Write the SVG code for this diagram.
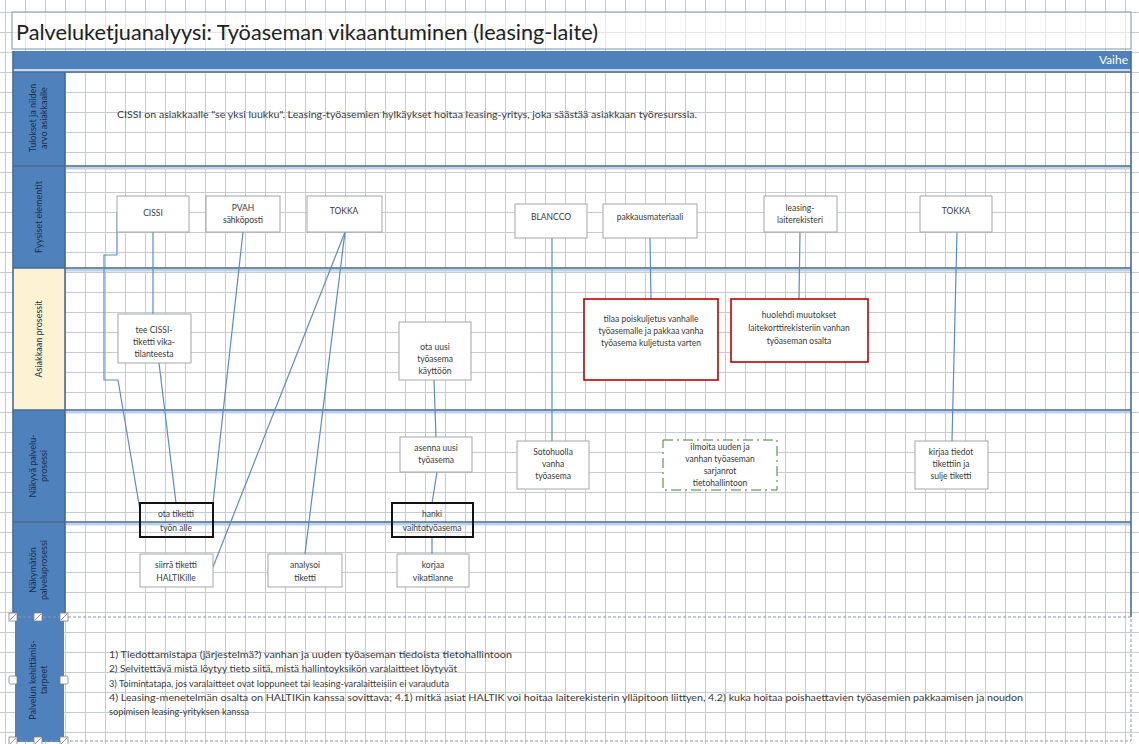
<svg xmlns="http://www.w3.org/2000/svg" width="1139" height="744" viewBox="0 0 1139 744">
<style>
.lbl{font-family:Lato,"Liberation Sans",sans-serif;font-size:9px;fill:#1a2f4d;text-anchor:middle}
.nt{font-family:Lato,"Liberation Sans",sans-serif;font-size:8.5px;fill:#3a3a3a;text-anchor:middle}
.box{fill:#fff;stroke:#a6a6a6;stroke-width:1}
.red{fill:#fff;stroke:#c00000;stroke-width:1.6}
.blk{fill:none;stroke:#111;stroke-width:2}
.sep{stroke:#4a6b90;stroke-width:1.6}
.glow{stroke:#bcd3ee;stroke-width:3}
.conn{fill:none;stroke:#5b8bc9;stroke-width:1.2}
.txt{font-family:Lato,"Liberation Sans",sans-serif;font-size:8.5px;fill:#3a3a3a}
.hd{fill:#fff;stroke:#808080;stroke-width:0.8}
</style>
<defs>
<pattern id="grid" width="20" height="20" patternUnits="userSpaceOnUse" x="5" y="12">
<path d="M0 0.5 H20 M0.5 0 V20" stroke="#c4ccd6" stroke-width="1" fill="none"/>
</pattern>
</defs>
<rect width="1139" height="744" fill="#fff"/>
<rect width="1139" height="744" fill="url(#grid)"/>

<g id="title">
<rect x="12" y="12" width="1119" height="37" fill="#fff" fill-opacity="0.55" stroke="#7f93ad" stroke-width="1"/>
<text x="16" y="40" font-family="Lato,'Liberation Sans',sans-serif" font-size="22" fill="#222" textLength="582" lengthAdjust="spacingAndGlyphs">Palveluketjuanalyysi: Työaseman vikaantuminen (leasing-laite)</text>
</g>

<g id="phase-bar">
<rect x="13" y="51" width="1118" height="18" fill="#4f81bd"/>
<rect x="13" y="69" width="1118" height="3" fill="#c6d9f1"/>
<text x="1128" y="64" text-anchor="end" font-family="Lato,'Liberation Sans',sans-serif" font-size="12" fill="#fff">Vaihe</text>
</g>

<g id="lanes">
<rect x="13" y="72" width="52" height="94" fill="#4f81bd"/>
<rect x="13" y="166" width="52" height="102" fill="#4f81bd"/>
<rect x="13" y="268" width="52" height="142" fill="#fdf2d4"/>
<rect x="13" y="410" width="52" height="112" fill="#4f81bd"/>
<rect x="13" y="522" width="52" height="95" fill="#4f81bd"/>
<rect x="15" y="617" width="49" height="125" fill="#4f81bd"/>
<line x1="13" y1="72" x2="1131" y2="72" class="sep"/>
<line x1="65" y1="168" x2="1131" y2="168" class="glow"/>
<line x1="13" y1="166" x2="1131" y2="166" class="sep"/>
<line x1="65" y1="270" x2="1131" y2="270" class="glow"/>
<line x1="13" y1="268" x2="1131" y2="268" class="sep"/>
<line x1="65" y1="412" x2="1131" y2="412" class="glow"/>
<line x1="13" y1="410" x2="1131" y2="410" class="sep"/>
<line x1="65" y1="524" x2="1131" y2="524" class="glow"/>
<line x1="13" y1="522" x2="1131" y2="522" class="sep"/>
<line x1="65" y1="72" x2="65" y2="617" class="sep"/>
<line x1="13" y1="51" x2="13" y2="617" class="sep"/>
<line x1="1131" y1="51" x2="1131" y2="617" class="sep"/>
<path d="M13 617 H1131 V741 H13" fill="none" stroke="#8797ad" stroke-width="1" stroke-dasharray="3 2"/>
<text class="lbl" transform="translate(39,118) rotate(-90)"><tspan x="0" y="-3">Tulokset ja niiden</tspan><tspan x="0" y="8">arvo asiakkaalle</tspan></text>
<text class="lbl" transform="translate(39,217) rotate(-90)"><tspan x="0" y="3">Fyysiset elementit</tspan></text>
<text class="lbl" transform="translate(39,339) rotate(-90)"><tspan x="0" y="3">Asiakkaan prosessit</tspan></text>
<text class="lbl" transform="translate(39,466) rotate(-90)"><tspan x="0" y="-3">Näkyvä palvelu-</tspan><tspan x="0" y="8">prosessi</tspan></text>
<text class="lbl" transform="translate(39,570) rotate(-90)"><tspan x="0" y="-3">Näkymätön</tspan><tspan x="0" y="8">palveluprosessi</tspan></text>
<text class="lbl" transform="translate(39,680) rotate(-90)"><tspan x="0" y="-3">Palvelun kehittämis-</tspan><tspan x="0" y="8">tarpeet</tspan></text>
<rect class="hd" x="9" y="613" width="8" height="8"/><path d="M10 620 L16 614" stroke="#808080" stroke-width="0.8"/>
<rect class="hd" x="34" y="613" width="8" height="8"/><path d="M35 620 L41 614" stroke="#808080" stroke-width="0.8"/>
<rect class="hd" x="60" y="613" width="8" height="8"/><path d="M61 620 L67 614" stroke="#808080" stroke-width="0.8"/>
<rect class="hd" x="9" y="676" width="8" height="8" rx="1.5"/>
<rect class="hd" x="60" y="676" width="8" height="8" rx="1.5"/>
<rect class="hd" x="9" y="737" width="8" height="8"/><path d="M10 744 L16 738" stroke="#808080" stroke-width="0.8"/>
<rect class="hd" x="34" y="737" width="8" height="8"/><path d="M35 744 L41 738" stroke="#808080" stroke-width="0.8"/>
<rect class="hd" x="60" y="737" width="8" height="8"/><path d="M61 744 L67 738" stroke="#808080" stroke-width="0.8"/>
</g>

<g id="lane1-text">
<text class="txt" x="117" y="118" textLength="580" lengthAdjust="spacingAndGlyphs">CISSI on asiakkaalle "se yksi luukku". Leasing-työasemien hylkäykset hoitaa leasing-yritys, joka säästää asiakkaan työresurssia.</text>
</g>

<g id="connectors">
<path class="conn" d="M153 232 V314"/>
<path class="conn" d="M117 213 V255 H104 V380 H118 L140 510"/>
<path class="conn" d="M159 363 L176 503"/>
<path class="conn" d="M243 232 L213 503"/>
<path class="conn" d="M345 232 L213 567"/>
<path class="conn" d="M345 232 L305 554"/>
<path class="conn" d="M434 380 L436 437"/>
<path class="conn" d="M437 472 L432 503"/>
<path class="conn" d="M432 537 V554"/>
<path class="conn" d="M552 238 V441"/>
<path class="conn" d="M650 238 L651 299"/>
<path class="conn" d="M800 232 L799 299"/>
<path class="conn" d="M957 232 L952 441"/>
</g>

<g id="n-cissi"><rect class="box" x="117" y="196" width="72" height="36"/><text class="nt" x="153" y="216">CISSI</text></g>
<g id="n-pvah"><rect class="box" x="206" y="196" width="74" height="36"/><text class="nt" x="243" y="211">PVAH</text><text class="nt" x="243" y="223">sähköposti</text></g>
<g id="n-tokka1"><rect class="box" x="307" y="196" width="75" height="36"/><text class="nt" x="344" y="214">TOKKA</text></g>
<g id="n-blancco"><rect class="box" x="515" y="204" width="72" height="34"/><text class="nt" x="551" y="220">BLANCCO</text></g>
<g id="n-pakkaus"><rect class="box" x="603" y="204" width="94" height="34"/><text class="nt" x="650" y="220">pakkausmateriaali</text></g>
<g id="n-leasingrek"><rect class="box" x="764" y="196" width="73" height="36"/><text class="nt" x="800" y="211">leasing-</text><text class="nt" x="800" y="223">laiterekisteri</text></g>
<g id="n-tokka2"><rect class="box" x="920" y="196" width="72" height="36"/><text class="nt" x="956" y="214">TOKKA</text></g>

<g id="n-teecissi"><rect class="box" x="118" y="314" width="73" height="49"/><text class="nt" x="154" y="333">tee CISSI-</text><text class="nt" x="154" y="345">tiketti vika-</text><text class="nt" x="154" y="357">tilanteesta</text></g>
<g id="n-otauusi"><rect class="box" x="399" y="322" width="72" height="58"/><text class="nt" x="435" y="350">ota uusi</text><text class="nt" x="435" y="362">työasema</text><text class="nt" x="435" y="374">käyttöön</text></g>
<g id="n-tilaa"><rect class="red" x="584" y="299" width="134" height="81"/><text class="nt" x="651" y="322">tilaa poiskuljetus vanhalle</text><text class="nt" x="651" y="334">työasemalle ja pakkaa vanha</text><text class="nt" x="651" y="346">työasema kuljetusta varten</text></g>
<g id="n-huolehdi"><rect class="red" x="731" y="299" width="137" height="63"/><text class="nt" x="799" y="318">huolehdi muutokset</text><text class="nt" x="799" y="331">laitekorttirekisteriin vanhan</text><text class="nt" x="799" y="344">työaseman osalta</text></g>

<g id="n-asenna"><rect class="box" x="400" y="437" width="72" height="35"/><text class="nt" x="436" y="451">asenna uusi</text><text class="nt" x="436" y="463">työasema</text></g>
<g id="n-sotohuolla"><rect class="box" x="517" y="441" width="72" height="48"/><text class="nt" x="553" y="455">Sotohuolla</text><text class="nt" x="553" y="467">vanha</text><text class="nt" x="553" y="479">työasema</text></g>
<g id="n-ilmoita"><rect x="663" y="440" width="114" height="50" fill="#fff" stroke="#3f7f3f" stroke-width="1" stroke-dasharray="10 4 2 4"/><text class="nt" x="720" y="450">ilmoita uuden ja</text><text class="nt" x="720" y="462">vanhan työaseman</text><text class="nt" x="720" y="474">sarjanrot</text><text class="nt" x="720" y="486">tietohallintoon</text></g>
<g id="n-kirjaa"><rect class="box" x="915" y="441" width="73" height="48"/><text class="nt" x="951" y="455">kirjaa tiedot</text><text class="nt" x="951" y="467">tikettiin ja</text><text class="nt" x="951" y="479">sulje tiketti</text></g>

<g id="n-otatiketti"><rect class="blk" x="140" y="503" width="73" height="34"/><text class="nt" x="176" y="517">ota tiketti</text><text class="nt" x="176" y="531">työn alle</text></g>
<g id="n-hanki"><rect class="blk" x="392" y="503" width="81" height="34"/><text class="nt" x="432" y="517">hanki</text><text class="nt" x="432" y="531">vaihtotyöasema</text></g>
<g id="n-siirra"><rect class="box" x="140" y="554" width="73" height="33"/><text class="nt" x="176" y="568">siirrä tiketti</text><text class="nt" x="176" y="581">HALTIKille</text></g>
<g id="n-analysoi"><rect class="box" x="268" y="554" width="74" height="33"/><text class="nt" x="305" y="568">analysoi</text><text class="nt" x="305" y="581">tiketti</text></g>
<g id="n-korjaa"><rect class="box" x="397" y="554" width="72" height="33"/><text class="nt" x="433" y="568">korjaa</text><text class="nt" x="433" y="581">vikatilanne</text></g>

<g id="lane6-text">
<text class="txt" x="109" y="658" textLength="403" lengthAdjust="spacingAndGlyphs">1) Tiedottamistapa (järjestelmä?) vanhan ja uuden työaseman tiedoista tietohallintoon</text>
<text class="txt" x="109" y="672" textLength="348" lengthAdjust="spacingAndGlyphs">2) Selvitettävä mistä löytyy tieto siitä, mistä hallintoyksikön varalaitteet löytyvät</text>
<text class="txt" x="109" y="687" textLength="340" lengthAdjust="spacingAndGlyphs">3) Toimintatapa, jos varalaitteet ovat loppuneet tai leasing-varalaitteisiin ei varauduta</text>
<text class="txt" x="109" y="701" textLength="914" lengthAdjust="spacingAndGlyphs">4) Leasing-menetelmän osalta on HALTIKin kanssa sovittava; 4.1) mitkä asiat HALTIK voi hoitaa laiterekisterin ylläpitoon liittyen, 4.2) kuka hoitaa poishaettavien työasemien pakkaamisen ja noudon</text>
<text class="txt" x="109" y="715" textLength="140" lengthAdjust="spacingAndGlyphs">sopimisen leasing-yrityksen kanssa</text>
</g>
</svg>
